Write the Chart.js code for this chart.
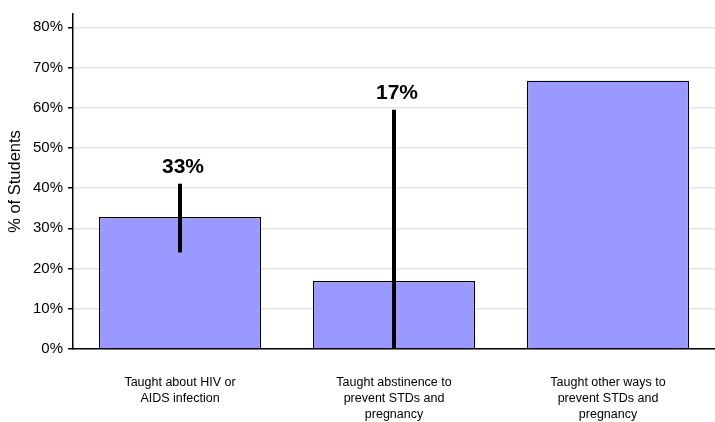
<!DOCTYPE html>
<html>
<head>
<meta charset="utf-8">
<script src="https://cdn.jsdelivr.net/npm/chart.js@4/dist/chart.umd.min.js"></script>
<style>
  html, body { margin: 0; padding: 0; background: #fff; }
  #wrap { width: 715px; height: 422px; }
</style>
</head>
<body>
<div id="wrap"><canvas id="myChart"></canvas></div>
<script>
// data
const categories = [
  ["Taught about HIV or", "AIDS infection"],
  ["Taught abstinence to", "prevent STDs and", "pregnancy"],
  ["Taught other ways to", "prevent STDs and", "pregnancy"],
];
const values = [32.8, 16.9, 66.7];
const errLow = [24.0, 0, null];
const errHigh = [41.1, 59.5, null];
const valueLabels = ["33%", "17%", null];
const yTicks = [0, 10, 20, 30, 40, 50, 60, 70, 80];

// error bars + bold value labels above them
const errorBars = {
  id: "errorBars",
  afterDatasetsDraw(chart) {
    const { ctx, scales: { x, y } } = chart;
    ctx.save();
    values.forEach((v, i) => {
      if (errLow[i] == null) return;
      const cx = x.getPixelForValue(i);
      const top = y.getPixelForValue(errHigh[i]);
      ctx.strokeStyle = "#000";
      ctx.lineWidth = 4;
      ctx.beginPath();
      ctx.moveTo(cx, y.getPixelForValue(errLow[i]));
      ctx.lineTo(cx, top);
      ctx.stroke();
      if (valueLabels[i]) {
        ctx.fillStyle = "#000";
        ctx.font = "bold 21px 'Liberation Sans', Arial, sans-serif";
        ctx.textAlign = "center";
        ctx.textBaseline = "alphabetic";
        ctx.fillText(valueLabels[i], cx + 3, top - 11);
      }
    });
    ctx.restore();
  },
};

Chart.defaults.font.family = "'Liberation Sans', Arial, sans-serif";
Chart.defaults.color = "#000";

new Chart(document.getElementById("myChart"), {
  type: "bar",
  data: {
    labels: categories,
    datasets: [{
      data: values,
      backgroundColor: "#9999ff",
      borderColor: "#000",
      borderWidth: 1.2,
      borderSkipped: "bottom",
      categoryPercentage: 1,
      barPercentage: 0.758,
    }],
  },
  options: {
    responsive: true,
    maintainAspectRatio: false,
    animation: false,
    layout: { padding: { top: 8, right: 0, left: 0, bottom: 0 } },
    plugins: {
      legend: { display: false },
      tooltip: { enabled: false },
    },
    scales: {
      x: {
        grid: { display: false },
        border: { color: "#000", width: 1.5 },
        ticks: { font: { size: 12.5, lineHeight: 1.28 }, padding: 18, maxRotation: 0 },
        afterFit(axis) { axis.height = 73; },
      },
      y: {
        min: 0,
        max: 83.3,
        afterBuildTicks(axis) {
          axis.ticks = yTicks.map(v => ({ value: v }));
        },
        afterFit(axis) { axis.width = 73; },
        grid: { color: "#e4e4e4", lineWidth: 1.5, tickColor: "#000", tickLength: 5 },
        border: { color: "#000", width: 1.5 },
        ticks: { font: { size: 15 }, padding: 5, callback: v => v + "%" },
        title: { display: true, text: "% of Students", font: { size: 16.5 }, padding: { top: 6, bottom: 0 } },
      },
    },
  },
  plugins: [errorBars],
});
</script>
</body>
</html>
